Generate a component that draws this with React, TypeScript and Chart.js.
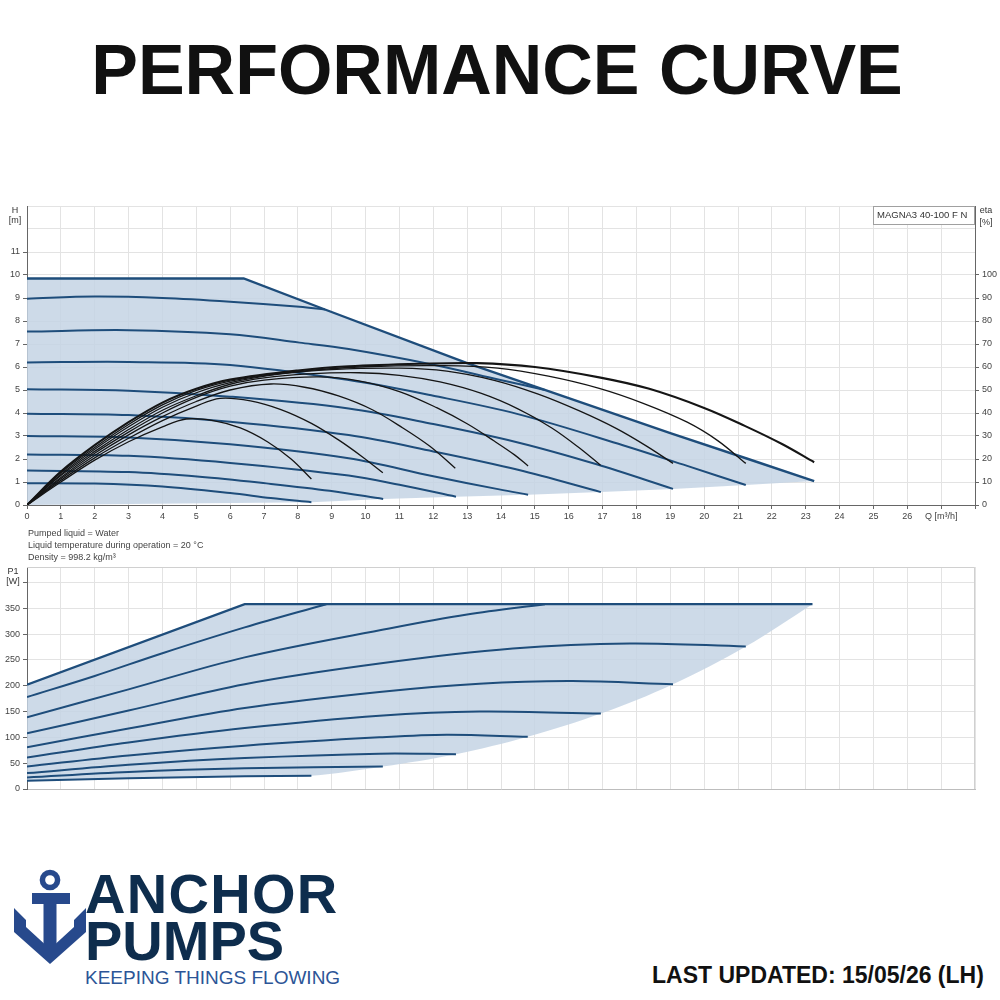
import React, { useEffect, useRef } from 'react';
import { Chart, registerables } from 'chart.js';

Chart.register(...registerables);

type Pt = [number, number];

const FONT = "'Liberation Sans', Arial, Helvetica, sans-serif";

// ---------- Top chart: Q [m³/h] vs H [m] ----------
const qTickLabels: string[] = ['0','1','2','3','4','5','6','7','8','9','10','11','12','13','14','15','16','17','18','19','20','21','22','23','24','25','26','Q [m³/h]',''];

const hEnvelope: Pt[] = [[0, 9.85], [6.4, 9.85], [8.8, 8.5], [13, 6.17], [16, 4.65], [19, 3.12], [21.3, 2.0], [23.25, 1.04]];
const hLowerEdge: Pt[] = [[0, 0], [8.4, 0.12], [10.52, 0.26], [12.67, 0.36], [14.8, 0.45], [16.95, 0.56], [19.08, 0.7], [21.23, 0.87], [23.25, 1.04]];

const hSpeed1: Pt[] = [[0, 0.95], [2, 0.93], [4, 0.8], [6, 0.52], [7.2, 0.3], [8.4, 0.12]];
const hSpeed2: Pt[] = [[0, 1.5], [3, 1.43], [5.1, 1.23], [7.07, 0.94], [8.94, 0.62], [10.52, 0.26]];
const hSpeed3: Pt[] = [[0, 2.2], [3, 2.14], [6, 1.83], [9.5, 1.28], [11, 0.88], [12.67, 0.36]];
const hSpeed4: Pt[] = [[0, 3.0], [3, 2.94], [6, 2.64], [9.5, 2.03], [12, 1.25], [13.95, 0.68], [14.8, 0.45]];
const hSpeed5: Pt[] = [[0, 3.97], [3, 3.91], [6, 3.62], [9.5, 3.04], [12, 2.33], [14.5, 1.53], [16.95, 0.56]];
const hSpeed6: Pt[] = [[0, 5.03], [3, 4.97], [6, 4.71], [9.5, 4.2], [12, 3.52], [14.5, 2.72], [16.8, 1.78], [19.08, 0.7]];
const hSpeed7: Pt[] = [[0, 6.2], [3, 6.22], [6, 6.09], [9.5, 5.43], [12, 4.75], [14.5, 3.95], [17.6, 2.6], [19.5, 1.7], [21.23, 0.87]];
const hSpeed8: Pt[] = [[0, 7.54], [3, 7.6], [6, 7.42], [8.05, 7.06], [9.5, 6.78], [12, 6.1], [13.95, 5.45], [15.3, 5.0]];
const hSpeed9: Pt[] = [[0, 8.97], [2, 9.06], [4, 9.0], [6, 8.84], [8.05, 8.62], [8.8, 8.5]];

// eta [%] curves
const eta1: Pt[] = [[0, 0], [1, 10], [2, 19.5], [3, 27.5], [4, 34], [4.7, 37.4], [5.5, 36.7], [6.3, 33.5], [7.1, 27.5], [7.8, 20], [8.4, 11.3]];
const eta2: Pt[] = [[0, 0], [1, 10.7], [2, 20.5], [3, 29], [4, 36.7], [5, 43], [5.7, 46.4], [6.6, 45.3], [7.5, 41.5], [8.4, 35.5], [9.2, 28.3], [9.9, 21], [10.51, 14]];
const eta3: Pt[] = [[0, 0], [1, 11.4], [2, 21.5], [3, 30.5], [4, 38.4], [5, 45], [6, 50], [7.2, 52.6], [8.2, 51.2], [9.2, 47.4], [10.2, 41.4], [11.1, 33.5], [11.9, 25.5], [12.65, 16]];
const eta4: Pt[] = [[0, 0], [1, 12], [2, 22.5], [3, 31.7], [4, 40], [5, 46.8], [6, 51.7], [7, 54.3], [8.6, 55.7], [9.8, 54], [11, 49.3], [12.1, 42.3], [13, 35.3], [13.8, 27.8], [14.4, 21.8], [14.8, 17]];
const eta5: Pt[] = [[0, 0], [1, 12.8], [2, 23.3], [3, 32.8], [4, 41.2], [5, 47.5], [6, 52.5], [7, 55.3], [8.3, 57], [9.8, 57.5], [11, 56.4], [12.2, 53.5], [13.4, 48.6], [14.5, 41.8], [15.5, 33.5], [16.3, 25], [16.94, 17.3]];
const eta6: Pt[] = [[0, 0], [1, 13.3], [2, 24.2], [3, 34], [4, 42.5], [5, 48.8], [6, 53.2], [7.5, 57], [9, 58.9], [11, 59.5], [12.4, 58.2], [13.8, 54.2], [15.1, 48.2], [16.3, 41], [17.4, 33.3], [18.3, 25.6], [19.08, 18.1]];
const eta7: Pt[] = [[0, 0], [1, 14], [2, 25], [3, 35], [4, 43.5], [5, 49.8], [6, 53.9], [8, 58], [10, 60.1], [12.3, 60.6], [13.9, 59.5], [15.4, 56], [16.9, 50.7], [18.2, 44.2], [19.5, 36], [20.4, 28], [21.23, 18.1]];
const eta8: Pt[] = [[0, 0], [1, 14.5], [2, 26], [3, 36], [4, 44.5], [5, 50.5], [6, 54.5], [8, 58.5], [9.5, 60.3], [11.6, 61.4], [13.3, 61.7], [15, 60], [16.9, 55.5], [18.38, 50.5], [20, 42.2], [21.2, 34.4], [22.3, 26.5], [23.25, 18.6]];

// ---------- Bottom chart: Q [m³/h] vs P1 [W] ----------
const pEnvelope: Pt[] = [[0, 202], [6.43, 358], [23.2, 358]];
const pEnds: Pt[] = [[10.51, 43.5], [12.67, 67.4], [14.79, 101], [16.95, 146], [19.08, 203], [21.23, 276], [23.2, 358]];

const pSpeed1: Pt[] = [[0, 16], [3, 21], [6.43, 24.5], [8.4, 25.6]];
const pSpeed2: Pt[] = [[0, 22.4], [3, 33], [6.43, 40], [10.51, 43.5]];
const pSpeed3: Pt[] = [[0, 30.8], [3, 47], [6.43, 60], [10.41, 68.5], [12.67, 67.4]];
const pSpeed4: Pt[] = [[0, 43.6], [3, 65], [6.43, 84], [10.41, 100], [12.4, 105], [14.79, 101]];
const pSpeed5: Pt[] = [[0, 61], [3, 90], [6.43, 118], [10.41, 142], [13.36, 150], [16.95, 146]];
const pSpeed6: Pt[] = [[0, 81], [3, 117], [6.43, 157], [10.41, 188], [13.36, 204], [16.1, 209], [19.08, 203]];
const pSpeed7: Pt[] = [[0, 108], [3, 152], [6.43, 203], [10.41, 243], [14.35, 272], [17.8, 282], [21.23, 276]];
const pSpeed8: Pt[] = [[0, 139], [3, 193], [6.43, 255], [10.7, 311], [13, 338], [15.3, 358]];
const pSpeed9: Pt[] = [[0, 178], [2, 219], [4, 263], [6.43, 313], [8.84, 358]];

const hSpeeds: Pt[][] = [hSpeed1, hSpeed2, hSpeed3, hSpeed4, hSpeed5, hSpeed6, hSpeed7, hSpeed8, hSpeed9];
const etaCurves: Pt[][] = [eta1, eta2, eta3, eta4, eta5, eta6, eta7, eta8];
const pSpeeds: Pt[][] = [pSpeed1, pSpeed2, pSpeed3, pSpeed4, pSpeed5, pSpeed6, pSpeed7, pSpeed8, pSpeed9];

const BLUE = '#1e4d7b';
const FILL = 'rgba(196, 212, 228, 0.85)';
const GRID = '#e3e3e3';
const AXIS = '#666666';
const TICK_COLOR = '#444444';
const TENSION = 0.35;

const toXY = (a: Pt[]) => a.map(([x, y]) => ({ x, y }));

const fitW = (w: number) => (s: any) => {
  s.width = w;
  s.paddingTop = 0;
  s.paddingBottom = 0;
};
const fitH = (h: number) => (s: any) => {
  s.height = h;
  s.paddingLeft = 0;
  s.paddingRight = 0;
};

const topLabels = {
  id: 'topLabels',
  afterDraw(chart: any) {
    const { ctx, chartArea: a } = chart;
    ctx.save();
    ctx.fillStyle = '#333';
    ctx.font = `9px ${FONT}`;
    ctx.textAlign = 'center';
    ctx.textBaseline = 'middle';
    ctx.fillText('H', a.left - 12, a.top + 5);
    ctx.fillText('[m]', a.left - 12, a.top + 15);
    ctx.fillText('eta', a.right + 11, a.top + 5);
    ctx.fillText('[%]', a.right + 11, a.top + 17);
    const bw = 102;
    const bh = 18;
    ctx.fillStyle = '#ffffff';
    ctx.fillRect(a.right - bw, a.top, bw, bh);
    ctx.strokeStyle = '#a0a0a0';
    ctx.lineWidth = 1;
    ctx.strokeRect(a.right - bw + 0.5, a.top + 0.5, bw - 1, bh);
    ctx.fillStyle = '#333';
    ctx.textAlign = 'left';
    ctx.font = `9.5px ${FONT}`;
    ctx.fillText('MAGNA3 40-100 F N', a.right - bw + 4, a.top + 9.5);
    ctx.restore();
  },
};

const bottomLabels = {
  id: 'bottomLabels',
  afterDraw(chart: any) {
    const { ctx, chartArea: a } = chart;
    ctx.save();
    ctx.strokeStyle = '#d0d0d0';
    ctx.lineWidth = 1;
    ctx.beginPath();
    ctx.moveTo(a.left, a.top + 0.5);
    ctx.lineTo(a.right - 0.5, a.top + 0.5);
    ctx.lineTo(a.right - 0.5, a.bottom);
    ctx.stroke();
    ctx.fillStyle = '#333';
    ctx.font = `9px ${FONT}`;
    ctx.textAlign = 'center';
    ctx.textBaseline = 'middle';
    ctx.fillText('P1', a.left - 14, a.top + 5);
    ctx.fillText('[W]', a.left - 14, a.top + 14.5);
    ctx.restore();
  },
};

const tickFont = { size: 9, family: FONT };

function TopChart() {
  const ref = useRef<HTMLCanvasElement>(null);
  useEffect(() => {
    const datasets: any[] = [
      { data: toXY(hLowerEdge), borderWidth: 0, pointRadius: 0, fill: false, yAxisID: 'y', order: 5 },
      { data: toXY(hEnvelope), borderColor: BLUE, borderWidth: 2.4, pointRadius: 0, fill: '-1', backgroundColor: FILL, yAxisID: 'y', order: 2 },
      ...hSpeeds.map((c) => ({
        data: toXY(c), borderColor: BLUE, borderWidth: 2, pointRadius: 0, fill: false,
        tension: TENSION, yAxisID: 'y', order: 3,
      })),
      ...etaCurves.map((c, i) => ({
        data: toXY(c), borderColor: '#151515', borderWidth: i === 7 ? 2.1 : 1.3, pointRadius: 0, fill: false,
        tension: TENSION, yAxisID: 'eta', order: 1,
      })),
    ];
    const chart = new Chart(ref.current as HTMLCanvasElement, {
      type: 'line',
      data: { datasets },
      options: {
        animation: false,
        responsive: false,
        maintainAspectRatio: false,
        layout: { padding: { top: 16, left: 0, right: 0, bottom: 0 } },
        plugins: {
          legend: { display: false },
          tooltip: { enabled: false },
          filler: { propagate: false, drawTime: 'beforeDatasetsDraw' },
        } as any,
        scales: {
          x: {
            type: 'linear', min: 0, max: 28,
            ticks: {
              stepSize: 1, autoSkip: false, maxRotation: 0, font: tickFont, color: TICK_COLOR, padding: 2,
              callback: (v: any) => qTickLabels[Math.round(Number(v))] ?? '',
            },
            grid: { color: GRID, tickColor: AXIS, tickLength: 4 },
            border: { color: AXIS },
            afterFit: fitH(25),
          },
          y: {
            type: 'linear', position: 'left', min: 0, max: 13,
            ticks: {
              stepSize: 1, font: tickFont, color: TICK_COLOR, padding: 3,
              callback: (v: any) => (Number(v) <= 11 ? String(v) : ''),
            },
            grid: {
              color: GRID, tickLength: 4,
              tickColor: (c: any) => (c.tick && c.tick.value > 11 ? 'rgba(0,0,0,0)' : AXIS),
            },
            border: { color: AXIS },
            afterFit: fitW(27),
          },
          eta: {
            type: 'linear', position: 'right', min: 0, max: 130,
            ticks: {
              stepSize: 10, font: tickFont, color: TICK_COLOR, padding: 3,
              callback: (v: any) => (Number(v) <= 100 ? String(v) : ''),
            },
            grid: {
              drawOnChartArea: false, tickLength: 4,
              tickColor: (c: any) => (c.tick && c.tick.value > 100 ? 'rgba(0,0,0,0)' : AXIS),
            },
            border: { color: AXIS },
            afterFit: fitW(25),
          },
        } as any,
      },
      plugins: [topLabels],
    } as any);
    return () => chart.destroy();
  }, []);
  return <canvas ref={ref} width={1000} height={340} style={{ position: 'absolute', left: 0, top: 190, width: 1000, height: 340 }} />;
}

function BottomChart() {
  const ref = useRef<HTMLCanvasElement>(null);
  useEffect(() => {
    const datasets: any[] = [
      { data: toXY([...pSpeed1, ...pEnds]), borderWidth: 0, pointRadius: 0, fill: false, order: 5, tension: TENSION },
      { data: toXY(pEnvelope), borderColor: BLUE, borderWidth: 2.4, pointRadius: 0, fill: '-1', backgroundColor: FILL, order: 2 },
      ...pSpeeds.map((c) => ({
        data: toXY(c), borderColor: BLUE, borderWidth: 2, pointRadius: 0, fill: false,
        tension: TENSION, order: 3,
      })),
    ];
    const chart = new Chart(ref.current as HTMLCanvasElement, {
      type: 'line',
      data: { datasets },
      options: {
        animation: false,
        responsive: false,
        maintainAspectRatio: false,
        layout: { padding: { top: 7, left: 0, right: 25, bottom: 0 } },
        plugins: {
          legend: { display: false },
          tooltip: { enabled: false },
          filler: { propagate: false, drawTime: 'beforeDatasetsDraw' },
        } as any,
        scales: {
          x: {
            type: 'linear', min: 0, max: 28,
            ticks: { display: false, stepSize: 1, autoSkip: false },
            grid: { color: GRID, drawTicks: false },
            border: { color: '#bdbdbd' },
            afterFit: fitH(6),
          },
          y: {
            type: 'linear', position: 'left', min: 0, max: 430,
            ticks: {
              stepSize: 50, font: tickFont, color: TICK_COLOR, padding: 3,
              callback: (v: any) => (Number(v) <= 350 ? String(v) : ''),
            },
            grid: {
              color: GRID, tickLength: 4,
              tickColor: (c: any) => (c.tick && c.tick.value > 350 && c.tick.value !== 400 ? 'rgba(0,0,0,0)' : AXIS),
            },
            border: { color: AXIS },
            afterFit: fitW(27),
          },
        } as any,
      },
      plugins: [bottomLabels],
    } as any);
    return () => chart.destroy();
  }, []);
  return <canvas ref={ref} width={1000} height={235} style={{ position: 'absolute', left: 0, top: 560, width: 1000, height: 235 }} />;
}

function AnchorIcon() {
  const c = '#27498c';
  return (
    <svg width={100} height={110} viewBox="0 0 100 110" style={{ position: 'absolute', left: 0, top: 860 }}>
      <circle cx={50} cy={20} r={7.6} fill="none" stroke={c} strokeWidth={5.5} />
      <rect x={32} y={33} width={38} height={11} fill={c} />
      <rect x={43.5} y={40} width={13} height={58} fill={c} />
      <polygon points="14,48 14,72 50,104 86,72 86,48 74,60 74,67 50,89 26,67 26,60" fill={c} />
    </svg>
  );
}

export default function App() {
  return (
    <div style={{ position: 'absolute', left: 0, top: 0, width: 1000, height: 1000, background: '#ffffff', overflow: 'hidden', fontFamily: FONT }}>
      <div style={{ position: 'absolute', top: 35, left: -3, width: 1000, textAlign: 'center', font: `bold 70px ${FONT}`, lineHeight: '70px', color: '#111111', whiteSpace: 'nowrap' }}>
        PERFORMANCE CURVE
      </div>
      <TopChart />
      <div style={{ position: 'absolute', left: 28, top: 527, font: `9px ${FONT}`, lineHeight: '12px', color: '#444' }}>
        <div>Pumped liquid = Water</div>
        <div>Liquid temperature during operation = 20 °C</div>
        <div>Density = 998.2 kg/m³</div>
      </div>
      <BottomChart />
      <AnchorIcon />
      <div style={{ position: 'absolute', left: 85, top: 866, font: `bold 56px ${FONT}`, lineHeight: '56px', letterSpacing: '1.3px', color: '#0e2d4d', whiteSpace: 'nowrap' }}>ANCHOR</div>
      <div style={{ position: 'absolute', left: 85, top: 913, font: `bold 56px ${FONT}`, lineHeight: '56px', color: '#0e2d4d', whiteSpace: 'nowrap' }}>PUMPS</div>
      <div style={{ position: 'absolute', left: 85, top: 968, font: `19px ${FONT}`, lineHeight: '19px', color: '#2c5597', whiteSpace: 'nowrap' }}>KEEPING THINGS FLOWING</div>
      <div style={{ position: 'absolute', left: 652, top: 964, font: `bold 23px ${FONT}`, lineHeight: '23px', color: '#111111', whiteSpace: 'nowrap' }}>LAST UPDATED: 15/05/26 (LH)</div>
    </div>
  );
}
